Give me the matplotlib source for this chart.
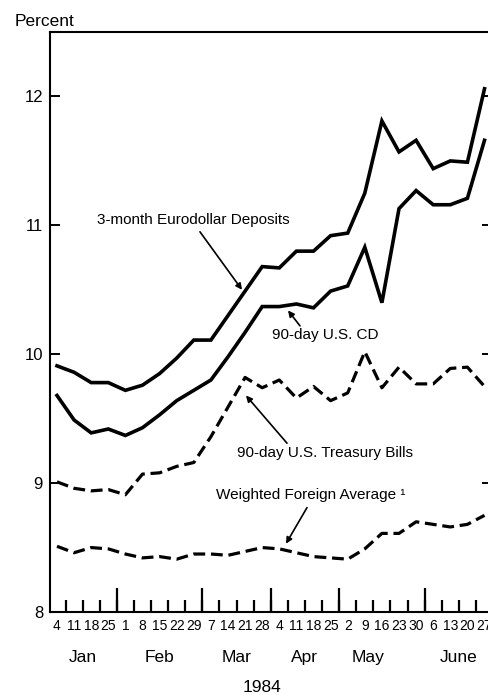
import numpy as np
import matplotlib
matplotlib.use('Agg')
import matplotlib.pyplot as plt
from matplotlib import font_manager

# weekly data, Jan 4 - Jun 27 1984
dates = [4, 11, 18, 25,
         1, 8, 15, 22, 29,
         7, 14, 21, 28,
         4, 11, 18, 25,
         2, 9, 16, 23, 30,
         6, 13, 20, 27]
months = ['Jan', 'Feb', 'Mar', 'Apr', 'May', 'June']
weeks_per_month = [4, 5, 4, 4, 5, 4]

eurodollar = [9.91, 9.86, 9.78, 9.78, 9.72, 9.76, 9.85, 9.97, 10.11, 10.11,
              10.30, 10.49, 10.68, 10.67, 10.80, 10.80, 10.92, 10.94, 11.25, 11.81,
              11.57, 11.66, 11.44, 11.50, 11.49, 12.06]
cd_90 = [9.68, 9.49, 9.39, 9.42, 9.37, 9.43, 9.53, 9.64, 9.72, 9.80,
         9.98, 10.17, 10.37, 10.37, 10.39, 10.36, 10.49, 10.53, 10.83, 10.40,
         11.13, 11.27, 11.16, 11.16, 11.21, 11.66]
tbills = [9.01, 8.96, 8.94, 8.95, 8.91, 9.07, 9.08, 9.13, 9.16, 9.36,
          9.59, 9.82, 9.74, 9.80, 9.66, 9.75, 9.64, 9.70, 10.02, 9.74,
          9.90, 9.77, 9.77, 9.89, 9.90, 9.75]
foreign = [8.51, 8.46, 8.50, 8.49, 8.45, 8.42, 8.43, 8.41, 8.45, 8.45,
           8.44, 8.47, 8.50, 8.49, 8.46, 8.43, 8.42, 8.41, 8.49, 8.61,
           8.61, 8.70, 8.68, 8.66, 8.68, 8.75]

names = {f.name for f in font_manager.fontManager.ttflist}
narrow = 'Liberation Sans Narrow' in names
plt.rcParams['font.family'] = ['Liberation Sans', 'DejaVu Sans']
nfam = ['Liberation Sans Narrow', 'Liberation Sans', 'DejaVu Sans']
nsize_tick = 12 if narrow else 10
nsize_ann = 13 if narrow else 11

x = np.arange(len(dates))

fig = plt.figure(figsize=(4.89, 6.95), dpi=100)
ax = fig.add_axes([0.1022, 0.1194, 0.904, 0.8345])

ax.plot(x, eurodollar, color='black', lw=2.6, solid_joinstyle='miter')
ax.plot(x, cd_90, color='black', lw=2.6, solid_joinstyle='miter')
ax.plot(x, tbills, color='black', lw=2.3, dashes=(3.7, 1.8))
ax.plot(x, foreign, color='black', lw=2.3, dashes=(3.7, 1.8))

ax.set_xlim(-0.41, 25.44)
ax.set_ylim(8, 12.5)

# y axis
ax.set_yticks([8, 9, 10, 11, 12])
ax.set_yticklabels(['8', '9', '10', '11', '12'], fontsize=12)
ax.tick_params(axis='y', direction='in', length=7, width=1.4, pad=5,
               left=True, right=True)

# x axis: date labels at the weeks, ticks in between
ax.set_xticks(x)
ax.set_xticklabels([str(d) for d in dates], family=nfam, fontsize=nsize_tick)
ax.tick_params(axis='x', which='major', length=0, pad=5)
ax.set_xticks(x[:-1] + 0.5, minor=True)
ax.tick_params(axis='x', which='minor', direction='in', length=8.5, width=1.6)

bounds = np.cumsum(weeks_per_month)[:-1] - 0.5
sec = ax.secondary_xaxis('bottom')
sec.set_xticks(bounds)
sec.set_xticklabels([])
sec.tick_params(direction='in', length=17, width=1.6)
sec.spines['bottom'].set_visible(False)

for s in ax.spines.values():
    s.set_linewidth(1.5)

# month names
starts = np.concatenate([[0], np.cumsum(weeks_per_month)[:-1]])
centers = starts + (np.array(weeks_per_month) - 1) / 2.0
centers[4] -= 0.8
trans = ax.get_xaxis_transform()
for c, m in zip(centers, months):
    ax.text(c, -0.0776, m, transform=trans, ha='center', va='center', fontsize=12.5)
ax.text(12.0, -0.131, '1984', transform=trans, ha='center', va='center', fontsize=12.5)

fig.text(15 / 489, 1 - 21 / 695, 'Percent', ha='left', va='center', fontsize=12.5)

# labels with arrows
arrow = dict(arrowstyle='-|>', color='black', lw=1.2, mutation_scale=9,
             shrinkA=0, shrinkB=0)
ax.text(2.34, 11.04, '3-month Eurodollar Deposits', family=nfam, fontsize=nsize_ann,
        ha='left', va='center')
ax.annotate('', xy=(10.82, 10.50), xytext=(8.36, 10.95), arrowprops=arrow)

ax.text(12.57, 10.147, '90-day U.S. CD', family=nfam, fontsize=nsize_ann,
        ha='left', va='center')
ax.annotate('', xy=(13.51, 10.34), xytext=(14.21, 10.22), arrowprops=arrow)

ax.text(10.53, 9.233, '90-day U.S. Treasury Bills', family=nfam, fontsize=nsize_ann,
        ha='left', va='center')
ax.annotate('', xy=(11.05, 9.68), xytext=(13.45, 9.31), arrowprops=arrow)

ax.text(9.30, 8.907, 'Weighted Foreign Average \u00b9', family=nfam, fontsize=nsize_ann,
        ha='left', va='center')
ax.annotate('', xy=(13.39, 8.53), xytext=(14.62, 8.81), arrowprops=arrow)

fig.savefig('out.png', dpi=100)
